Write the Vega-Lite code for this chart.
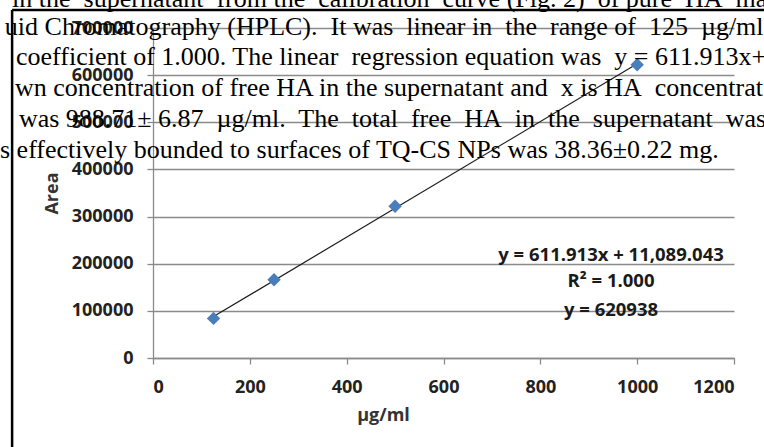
{
  "$schema": "https://vega.github.io/schema/vega-lite/v6.json",
  "width": 581,
  "height": 330,
  "autosize": "none",
  "padding": {"left": 153, "top": 28, "right": 30, "bottom": 89},
  "background": "white",
  "config": {
    "view": {"stroke": null},
    "axis": {
      "labelFont": "Open Sans",
      "labelFontWeight": "bold",
      "labelFontSize": 18,
      "labelColor": "#222222",
      "titleFont": "Open Sans",
      "titleFontWeight": "bold",
      "titleFontSize": 18,
      "titleColor": "#333333",
      "domainColor": "#8a8a8a",
      "domainWidth": 1.3,
      "tickColor": "#8a8a8a",
      "tickWidth": 1.3,
      "tickSize": 6,
      "gridColor": "#8a8a8a",
      "gridWidth": 1.3,
      "labelPadding": 14
    }
  },
  "encoding": {
    "x": {
      "field": "conc",
      "type": "quantitative",
      "scale": {"domain": [0, 1200], "nice": false, "zero": false},
      "axis": {
        "title": "µg/ml",
        "values": [0, 200, 400, 600, 800, 1000, 1200],
        "format": "d",
        "grid": false,
        "titleX": 230,
        "titleY": 57,
        "titleBaseline": "middle",
        "titleAlign": "center"
      }
    },
    "y": {
      "field": "area",
      "type": "quantitative",
      "scale": {"domain": [0, 700000], "nice": false, "zero": false},
      "axis": {
        "title": "Area",
        "values": [0, 100000, 200000, 300000, 400000, 500000, 600000, 700000],
        "format": "d",
        "grid": true,
        "titleX": -101,
        "titleY": 165,
        "titleAngle": 270,
        "titleBaseline": "middle",
        "titleAlign": "center"
      }
    }
  },
  "layer": [
    {
      "data": {"values": [
        {"conc": 125, "area": 84000},
        {"conc": 250, "area": 166000},
        {"conc": 500, "area": 322000},
        {"conc": 1000, "area": 622000}
      ]},
      "transform": [{"regression": "area", "on": "conc"}],
      "mark": {"type": "line", "color": "#1a1a1a", "strokeWidth": 1.2}
    },
    {
      "data": {"values": [
        {"conc": 125, "area": 84000},
        {"conc": 250, "area": 166000},
        {"conc": 500, "area": 322000},
        {"conc": 1000, "area": 622000}
      ]},
      "mark": {"type": "point", "shape": "diamond", "filled": true, "size": 180, "color": "#4A7EBB", "opacity": 1}
    },
    {
      "data": {"values": [
        {"conc": 946, "area": 218500, "label": "y = 611.913x + 11,089.043"},
        {"conc": 946, "area": 163300, "label": "R² = 1.000"},
        {"conc": 946, "area": 101800, "label": "y = 620938"}
      ]},
      "mark": {"type": "text", "font": "Open Sans", "fontWeight": "bold", "fontSize": 18.5, "color": "#1a1a1a", "align": "center", "baseline": "middle"},
      "encoding": {"text": {"field": "label"}}
    },
    {
      "data": {"values": [
        {"conc": -291, "area": 738000, "conc2": 1280, "area2": 738000},
        {"conc": -291, "area": -200000, "conc2": -291, "area2": 738000}
      ]},
      "mark": {"type": "rule", "color": "black", "strokeWidth": 2.5},
      "encoding": {"x2": {"field": "conc2"}, "y2": {"field": "area2"}}
    },
    {
      "data": {"values": [
        {"conc": -291, "area": 744500, "line": "in the\u00a0 supernatant\u00a0 from the\u00a0 calibration\u00a0 curve (Fig. 2)\u00a0 of pure\u00a0 HA\u00a0 ma"},
        {"conc": -306, "area": 685100, "line": "uid Chromatography (HPLC).\u00a0 It was\u00a0 linear in\u00a0 the\u00a0 range of\u00a0 125\u00a0 µg/ml"},
        {"conc": -283, "area": 621500, "line": "coefficient of 1.000. The linear\u00a0 regression equation was\u00a0 y = 611.913x+"},
        {"conc": -285, "area": 555800, "line": "wn concentration of free HA in the supernatant and\u00a0 x is HA\u00a0 concentrat"},
        {"conc": -277, "area": 490000, "line": "was 988.71± 6.87\u00a0 µg/ml.\u00a0 The\u00a0 total\u00a0 free\u00a0 HA\u00a0 in\u00a0 the\u00a0 supernatant\u00a0 was"},
        {"conc": -316, "area": 424200, "line": "s effectively bounded to surfaces of TQ-CS NPs was 38.36±0.22 mg."}
      ]},
      "mark": {"type": "text", "font": "Liberation Serif", "fontSize": 26, "color": "black", "align": "left", "baseline": "alphabetic"},
      "encoding": {"text": {"field": "line"}}
    }
  ]
}
